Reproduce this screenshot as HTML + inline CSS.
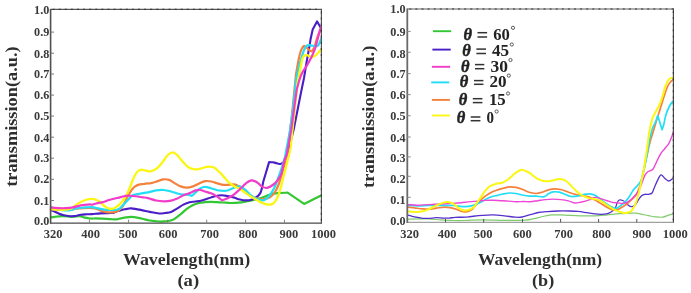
<!DOCTYPE html>
<html><head><meta charset="utf-8"><style>
html,body{margin:0;padding:0;background:#fff;}
body{width:691px;height:293px;overflow:hidden;}
svg{display:block;will-change:transform;}
text{font-family:"Liberation Serif",serif;font-weight:bold;fill:#333;}
.tk{font-size:12.5px;fill:#3a3a3a;}
.tky{font-size:12.2px;}
.lab{font-size:16.5px;fill:#2e2e2e;}
.lg{font-size:16.4px;fill:#222;}
.th{font-style:italic;stroke:#222;stroke-width:0.45px;}
.deg{font-size:9px;font-weight:normal;}
path{fill:none;stroke-linejoin:round;stroke-linecap:round;}
</style></head><body>
<svg width="691" height="293" viewBox="0 0 691 293">
<rect width="691" height="293" fill="#fff"/>
<defs><clipPath id="ca"><rect x="49.8" y="8" width="271.9" height="216"/></clipPath><clipPath id="cb"><rect x="406.5" y="8" width="267.1" height="215"/></clipPath></defs>
<g id="a">
<g clip-path="url(#ca)">
<path d="M50.50 217.60 C51.18 217.47 52.63 217.03 54.60 216.80 C56.57 216.57 59.48 216.20 62.30 216.20 C65.12 216.20 68.68 216.80 71.50 216.80 C74.32 216.80 77.15 216.12 79.20 216.20 C81.25 216.28 82.02 216.92 83.80 217.30 C85.58 217.68 87.87 218.32 89.90 218.50 C91.93 218.68 93.95 218.37 96.00 218.40 C98.05 218.43 99.87 218.58 102.20 218.70 C104.53 218.82 107.68 218.98 110.00 219.10 C112.32 219.22 114.05 219.57 116.10 219.40 C118.15 219.23 119.73 218.53 122.30 218.10 C124.87 217.67 128.43 216.75 131.50 216.80 C134.57 216.85 137.63 217.78 140.70 218.40 C143.77 219.02 146.83 219.98 149.90 220.50 C152.97 221.02 156.58 221.37 159.10 221.50 C161.62 221.63 163.25 221.42 165.00 221.30 C166.75 221.18 168.07 221.17 169.60 220.80 C171.13 220.43 172.42 220.15 174.20 219.10 C175.98 218.05 178.25 216.15 180.30 214.50 C182.35 212.85 184.45 210.73 186.50 209.20 C188.55 207.67 190.55 206.33 192.60 205.30 C194.65 204.27 196.75 203.52 198.80 203.00 C200.85 202.48 202.87 202.38 204.90 202.20 C206.93 202.02 208.95 201.90 211.00 201.90 C213.05 201.90 215.20 202.10 217.20 202.20 C219.20 202.30 220.75 202.37 223.00 202.50 C225.25 202.63 228.13 202.97 230.70 203.00 C233.27 203.03 235.85 202.95 238.40 202.70 C240.95 202.45 243.45 201.97 246.00 201.50 C248.55 201.03 251.37 200.42 253.70 199.90 C256.03 199.38 257.28 199.28 260.00 198.40 C262.72 197.52 267.08 195.48 270.00 194.60 C272.92 193.72 274.57 193.42 277.50 193.10 C280.43 192.78 285.92 192.77 287.60 192.70 L304.10 203.90 L321.00 195.40" stroke="#33c833" stroke-width="2.20"/>
<path d="M50.50 209.90 C51.18 210.17 53.15 210.85 54.60 211.50 C56.05 212.15 57.67 213.17 59.20 213.80 C60.73 214.43 62.00 214.90 63.80 215.30 C65.60 215.70 68.20 216.07 70.00 216.20 C71.80 216.33 72.82 216.35 74.60 216.10 C76.38 215.85 78.67 215.00 80.70 214.70 C82.73 214.40 84.92 214.40 86.80 214.30 C88.68 214.20 89.77 214.25 92.00 214.10 C94.23 213.95 97.47 213.57 100.20 213.40 C102.93 213.23 106.22 213.18 108.40 213.10 C110.58 213.02 111.95 213.15 113.30 212.90 C114.65 212.65 115.28 212.02 116.50 211.60 C117.72 211.18 119.23 210.78 120.60 210.40 C121.97 210.02 123.47 209.57 124.70 209.30 C125.93 209.03 126.87 208.95 128.00 208.80 C129.13 208.65 129.38 208.22 131.50 208.40 C133.62 208.58 137.63 209.32 140.70 209.90 C143.77 210.48 146.83 211.30 149.90 211.90 C152.97 212.50 156.58 213.32 159.10 213.50 C161.62 213.68 163.00 213.27 165.00 213.00 C167.00 212.73 169.05 212.67 171.10 211.90 C173.15 211.13 175.25 209.62 177.30 208.40 C179.35 207.18 181.35 205.63 183.40 204.60 C185.45 203.57 187.55 202.72 189.60 202.20 C191.65 201.68 193.67 201.78 195.70 201.50 C197.73 201.22 199.75 201.00 201.80 200.50 C203.85 200.00 205.95 199.15 208.00 198.50 C210.05 197.85 211.85 197.13 214.10 196.60 C216.35 196.07 219.25 195.38 221.50 195.30 C223.75 195.22 225.55 195.72 227.60 196.10 C229.65 196.48 231.75 197.03 233.80 197.60 C235.85 198.17 237.87 199.03 239.90 199.50 C241.93 199.97 243.95 200.40 246.00 200.40 C248.05 200.40 250.40 200.08 252.20 199.50 C254.00 198.92 255.40 198.07 256.80 196.90 C258.20 195.73 259.50 195.10 260.60 192.50 C261.70 189.90 262.93 183.17 263.40 181.30 L269.10 162.10 C269.75 162.13 272.35 162.27 273.00 162.30 C273.75 162.48 276.28 163.12 277.50 163.40 C278.72 163.68 279.37 164.15 280.30 164.00 C281.23 163.85 282.32 163.22 283.10 162.50 C283.88 161.78 284.35 160.87 285.00 159.70 C285.65 158.53 286.67 156.20 287.00 155.50 L293.60 130.00 L301.50 90.00 L304.00 78.00 L306.60 62.00 L309.20 47.80 L310.60 39.00 L312.70 29.50 L317.00 21.40 L319.60 25.70 L321.20 28.10" stroke="#4a1ec6" stroke-width="2.10"/>
<path d="M50.50 209.20 C52.08 209.30 56.75 209.68 60.00 209.80 C63.25 209.92 67.33 210.10 70.00 209.90 C72.67 209.70 73.67 208.90 76.00 208.60 C78.33 208.30 81.17 208.18 84.00 208.10 C86.83 208.02 90.98 207.98 93.00 208.10 C95.02 208.22 94.90 208.42 96.10 208.80 C97.30 209.18 98.83 209.93 100.20 210.40 C101.57 210.87 102.93 211.28 104.30 211.60 C105.67 211.92 107.03 212.18 108.40 212.30 C109.77 212.42 111.28 212.42 112.50 212.30 C113.72 212.18 114.62 211.98 115.70 211.60 C116.78 211.22 117.90 210.82 119.00 210.00 C120.10 209.18 121.40 207.83 122.30 206.70 C123.20 205.57 123.48 204.93 124.40 203.20 C125.32 201.47 126.62 198.48 127.80 196.30 C128.98 194.12 130.27 191.75 131.50 190.10 C132.73 188.45 133.97 187.32 135.20 186.40 C136.43 185.48 137.47 185.00 138.90 184.60 C140.33 184.20 142.28 184.20 143.80 184.00 C145.32 183.80 146.98 183.50 148.00 183.40 C149.02 183.30 148.57 183.67 149.90 183.40 C151.23 183.13 153.82 182.47 156.00 181.80 C158.18 181.13 160.82 179.72 163.00 179.40 C165.18 179.08 167.17 179.28 169.10 179.90 C171.03 180.52 172.67 182.02 174.60 183.10 C176.53 184.18 178.65 185.63 180.70 186.40 C182.75 187.17 184.85 187.70 186.90 187.70 C188.95 187.70 190.95 187.12 193.00 186.40 C195.05 185.68 197.15 184.28 199.20 183.40 C201.25 182.52 203.27 181.42 205.30 181.10 C207.33 180.78 209.35 181.12 211.40 181.50 C213.45 181.88 215.55 182.83 217.60 183.40 C219.65 183.97 221.63 184.68 223.70 184.90 C225.77 185.12 228.07 184.75 230.00 184.70 C231.93 184.65 233.63 184.17 235.30 184.60 C236.97 185.03 238.22 186.07 240.00 187.30 C241.78 188.53 244.17 190.58 246.00 192.00 C247.83 193.42 249.33 194.75 251.00 195.80 C252.67 196.85 254.08 197.72 256.00 198.30 C257.92 198.88 260.17 199.48 262.50 199.30 C264.83 199.12 267.97 198.33 270.00 197.20 C272.03 196.07 273.30 194.53 274.70 192.50 C276.10 190.47 277.15 188.28 278.40 185.00 C279.65 181.72 281.10 176.55 282.20 172.80 C283.30 169.05 284.20 165.38 285.00 162.50 C285.80 159.62 286.67 156.67 287.00 155.50 L292.00 115.00 L296.00 74.20 C296.45 71.70 297.90 63.07 298.70 59.20 C299.50 55.33 300.08 53.03 300.80 51.00 C301.52 48.97 302.37 47.83 303.00 47.00 C303.63 46.17 303.93 45.83 304.60 46.00 C305.27 46.17 306.15 47.28 307.00 48.00 C307.85 48.72 308.92 49.77 309.70 50.30 C310.48 50.83 310.95 51.62 311.70 51.20 C312.45 50.78 313.38 49.73 314.20 47.80 C315.02 45.87 315.78 42.07 316.60 39.60 C317.42 37.13 318.33 34.50 319.10 33.00 C319.87 31.50 320.85 31.00 321.20 30.60" stroke="#f5803c" stroke-width="2.20"/>
<path d="M50.50 207.00 C51.70 207.37 55.23 208.62 57.70 209.20 C60.17 209.78 63.00 210.38 65.30 210.50 C67.60 210.62 69.70 210.27 71.50 209.90 C73.30 209.53 74.05 208.68 76.10 208.30 C78.15 207.92 81.15 207.80 83.80 207.60 C86.45 207.40 89.95 207.03 92.00 207.10 C94.05 207.17 94.73 207.72 96.10 208.00 C97.47 208.28 98.83 208.53 100.20 208.80 C101.57 209.07 102.93 209.40 104.30 209.60 C105.67 209.80 106.90 209.93 108.40 210.00 C109.90 210.07 111.95 210.03 113.30 210.00 C114.65 209.97 115.42 210.07 116.50 209.80 C117.58 209.53 118.70 209.18 119.80 208.40 C120.90 207.62 122.07 206.17 123.10 205.10 C124.13 204.03 125.00 203.07 126.00 202.00 C127.00 200.93 127.97 199.82 129.10 198.70 C130.23 197.58 131.37 196.07 132.80 195.30 C134.23 194.53 136.07 194.45 137.70 194.10 C139.33 193.75 140.88 193.50 142.60 193.20 C144.32 192.90 145.77 192.77 148.00 192.30 C150.23 191.83 153.38 190.78 156.00 190.40 C158.62 190.02 161.18 189.82 163.70 190.00 C166.22 190.18 168.83 190.92 171.10 191.50 C173.37 192.08 175.25 192.98 177.30 193.50 C179.35 194.02 181.42 194.38 183.40 194.60 C185.38 194.82 187.78 194.60 189.20 194.80 C190.62 195.00 190.82 196.22 191.90 195.80 C192.98 195.38 194.30 193.53 195.70 192.30 C197.10 191.07 198.77 189.30 200.30 188.40 C201.83 187.50 203.12 186.93 204.90 186.90 C206.68 186.87 208.95 187.65 211.00 188.20 C213.05 188.75 215.53 189.78 217.20 190.20 C218.87 190.62 219.27 190.65 221.00 190.70 C222.73 190.75 225.22 191.08 227.60 190.50 C229.98 189.92 233.25 187.90 235.30 187.20 C237.35 186.50 238.37 185.97 239.90 186.30 C241.43 186.63 242.72 187.75 244.50 189.20 C246.28 190.65 248.55 193.38 250.60 195.00 C252.65 196.62 255.13 198.07 256.80 198.90 C258.47 199.73 259.33 199.82 260.60 200.00 C261.87 200.18 262.98 200.62 264.40 200.00 C265.82 199.38 267.53 198.17 269.10 196.30 C270.67 194.43 272.25 191.93 273.80 188.80 C275.35 185.67 277.00 181.25 278.40 177.50 C279.80 173.75 281.10 169.73 282.20 166.30 C283.30 162.87 284.53 158.47 285.00 156.90 L290.10 130.00 L292.80 110.00 L296.00 80.00 C296.45 77.90 297.78 71.10 298.70 67.40 C299.62 63.70 300.58 60.77 301.50 57.80 C302.42 54.83 303.28 51.65 304.20 49.60 C305.12 47.55 305.85 46.22 307.00 45.50 C308.15 44.78 309.73 45.18 311.10 45.30 C312.47 45.42 314.00 46.18 315.20 46.20 C316.40 46.22 317.30 46.63 318.30 45.40 C319.30 44.17 320.72 39.90 321.20 38.80" stroke="#22def5" stroke-width="2.20"/>
<path d="M50.50 209.00 C51.70 209.12 55.23 209.58 57.70 209.70 C60.17 209.82 63.00 209.92 65.30 209.70 C67.60 209.48 69.45 209.38 71.50 208.40 C73.55 207.42 75.30 205.20 77.60 203.80 C79.90 202.40 82.73 200.82 85.30 200.00 C87.87 199.18 91.20 198.93 93.00 198.90 C94.80 198.87 94.90 199.25 96.10 199.80 C97.30 200.35 98.83 201.18 100.20 202.20 C101.57 203.22 102.93 204.87 104.30 205.90 C105.67 206.93 107.18 207.92 108.40 208.40 C109.62 208.88 110.52 208.87 111.60 208.80 C112.68 208.73 113.80 208.55 114.90 208.00 C116.00 207.45 117.27 206.23 118.20 205.50 C119.13 204.77 119.52 204.73 120.50 203.60 C121.48 202.47 122.98 200.33 124.10 198.70 C125.22 197.07 126.17 195.85 127.20 193.80 C128.23 191.75 129.27 188.95 130.30 186.40 C131.33 183.85 132.38 180.75 133.40 178.50 C134.42 176.25 135.38 174.28 136.40 172.90 C137.42 171.52 138.47 170.72 139.50 170.20 C140.53 169.68 141.18 169.65 142.60 169.80 C144.02 169.95 146.65 170.85 148.00 171.10 C149.35 171.35 149.23 171.75 150.70 171.30 C152.17 170.85 154.75 170.03 156.80 168.40 C158.85 166.77 161.20 163.68 163.00 161.50 C164.80 159.32 166.07 156.82 167.60 155.30 C169.13 153.78 170.67 152.52 172.20 152.40 C173.73 152.28 175.50 153.60 176.80 154.60 C178.10 155.60 179.08 157.32 180.00 158.40 C180.92 159.48 180.90 159.63 182.30 161.10 C183.70 162.57 186.35 165.82 188.40 167.20 C190.45 168.58 192.55 169.17 194.60 169.40 C196.65 169.63 198.67 169.03 200.70 168.60 C202.73 168.17 204.75 167.03 206.80 166.80 C208.85 166.57 211.20 166.62 213.00 167.20 C214.80 167.78 216.07 169.02 217.60 170.30 C219.13 171.58 220.67 173.23 222.20 174.90 C223.73 176.57 225.50 178.88 226.80 180.30 C228.10 181.72 228.58 182.30 230.00 183.40 C231.42 184.50 233.63 185.97 235.30 186.90 C236.97 187.83 237.97 187.75 240.00 189.00 C242.03 190.25 245.00 192.72 247.50 194.40 C250.00 196.08 252.65 197.73 255.00 199.10 C257.35 200.47 259.57 201.70 261.60 202.60 C263.63 203.50 265.48 204.25 267.20 204.50 C268.92 204.75 270.50 204.70 271.90 204.10 C273.30 203.50 274.35 202.83 275.60 200.90 C276.85 198.97 278.27 195.77 279.40 192.50 C280.53 189.23 281.42 185.05 282.40 181.30 C283.38 177.55 284.45 173.37 285.30 170.00 C286.15 166.63 286.87 163.67 287.50 161.10 C288.13 158.53 288.58 156.78 289.10 154.60 C289.62 152.42 290.35 149.10 290.60 148.00 L292.50 130.00 L294.60 110.00 L296.90 90.00 L298.00 80.00 C298.35 78.35 299.40 73.57 300.10 70.10 C300.80 66.63 301.52 61.58 302.20 59.20 C302.88 56.82 303.40 56.48 304.20 55.80 C305.00 55.12 306.08 55.00 307.00 55.10 C307.92 55.20 308.80 56.07 309.70 56.40 C310.60 56.73 311.35 57.32 312.40 57.10 C313.45 56.88 315.02 55.83 316.00 55.10 C316.98 54.37 317.43 53.63 318.30 52.70 C319.17 51.77 320.72 50.03 321.20 49.50" stroke="#fbf614" stroke-width="2.30"/>
<path d="M50.50 207.60 C51.70 207.68 55.23 208.00 57.70 208.10 C60.17 208.20 62.75 208.32 65.30 208.20 C67.85 208.08 70.43 207.88 73.00 207.40 C75.57 206.92 77.88 205.80 80.70 205.30 C83.52 204.80 88.02 204.50 89.90 204.40 C91.78 204.30 90.97 204.85 92.00 204.70 C93.03 204.55 94.73 203.85 96.10 203.50 C97.47 203.15 98.83 202.88 100.20 202.60 C101.57 202.32 103.22 202.10 104.30 201.80 C105.38 201.50 105.75 201.13 106.70 200.80 C107.65 200.47 108.63 200.18 110.00 199.80 C111.37 199.42 113.40 198.87 114.90 198.50 C116.40 198.13 117.67 197.93 119.00 197.60 C120.33 197.27 121.43 196.82 122.90 196.50 C124.37 196.18 126.15 195.78 127.80 195.70 C129.45 195.62 131.15 195.87 132.80 196.00 C134.45 196.13 136.07 196.28 137.70 196.50 C139.33 196.72 140.88 197.03 142.60 197.30 C144.32 197.57 145.77 197.57 148.00 198.10 C150.23 198.63 153.38 199.97 156.00 200.50 C158.62 201.03 161.18 201.27 163.70 201.30 C166.22 201.33 168.83 201.18 171.10 200.70 C173.37 200.22 175.25 199.30 177.30 198.40 C179.35 197.50 181.35 196.20 183.40 195.30 C185.45 194.40 187.55 193.82 189.60 193.00 C191.65 192.18 193.92 190.90 195.70 190.40 C197.48 189.90 198.77 189.82 200.30 190.00 C201.83 190.18 203.12 190.95 204.90 191.50 C206.68 192.05 209.22 192.62 211.00 193.30 C212.78 193.98 213.73 194.43 215.60 195.60 C217.47 196.77 221.10 199.52 222.20 200.30 C223.10 199.97 225.67 199.25 227.60 198.30 C229.53 197.35 231.75 196.12 233.80 194.60 C235.85 193.08 237.87 191.08 239.90 189.20 C241.93 187.32 244.10 184.78 246.00 183.30 C247.90 181.82 249.48 180.48 251.30 180.30 C253.12 180.12 255.03 181.10 256.90 182.20 C258.77 183.30 260.78 185.97 262.50 186.90 C264.22 187.83 265.48 188.12 267.20 187.80 C268.92 187.48 271.08 186.25 272.80 185.00 C274.52 183.75 276.08 182.17 277.50 180.30 C278.92 178.43 280.18 177.00 281.30 173.80 C282.42 170.60 283.30 164.30 284.20 161.10 C285.10 157.90 286.08 156.78 286.70 154.60 C287.32 152.42 287.70 149.10 287.90 148.00 L291.20 130.00 L293.90 110.00 L296.60 90.00 C297.07 88.33 298.58 82.63 299.40 80.00 C300.22 77.37 300.70 75.95 301.50 74.20 C302.30 72.45 303.28 70.98 304.20 69.50 C305.12 68.02 306.08 66.80 307.00 65.30 C307.92 63.80 308.80 62.20 309.70 60.50 C310.60 58.80 311.48 57.15 312.40 55.10 C313.32 53.05 314.37 50.72 315.20 48.20 C316.03 45.68 316.67 42.80 317.40 40.00 C318.13 37.20 318.93 33.73 319.60 31.40 C320.27 29.07 321.10 26.90 321.40 26.00" stroke="#f03cc8" stroke-width="2.20"/>
</g>
<line x1="50.60" y1="9.40" x2="321.90" y2="9.40" stroke="#5a5a5a" stroke-width="1.10"/>
<line x1="52.60" y1="9.40" x2="321.40" y2="9.40" stroke="#333" stroke-width="1.10" stroke-dasharray="2 4.1"/>
<line x1="321.40" y1="8.90" x2="321.40" y2="223.80" stroke="#555" stroke-width="1.20"/>
<line x1="321.40" y1="11.40" x2="321.40" y2="223.20" stroke="#333" stroke-width="1.20" stroke-dasharray="2 4.1"/>
<line x1="50.60" y1="223.20" x2="321.40" y2="223.20" stroke="#4a4a4a" stroke-width="1.30"/>
<line x1="50.60" y1="8.90" x2="50.60" y2="223.80" stroke="#505050" stroke-width="1.60"/>
<line x1="50.60" y1="200.50" x2="54.00" y2="200.50" stroke="#777" stroke-width="1"/>
<line x1="50.60" y1="179.30" x2="54.00" y2="179.30" stroke="#777" stroke-width="1"/>
<line x1="50.60" y1="158.20" x2="54.00" y2="158.20" stroke="#777" stroke-width="1"/>
<line x1="50.60" y1="137.20" x2="54.00" y2="137.20" stroke="#777" stroke-width="1"/>
<line x1="50.60" y1="116.10" x2="54.00" y2="116.10" stroke="#777" stroke-width="1"/>
<line x1="50.60" y1="95.10" x2="54.00" y2="95.10" stroke="#777" stroke-width="1"/>
<line x1="50.60" y1="74.00" x2="54.00" y2="74.00" stroke="#777" stroke-width="1"/>
<line x1="50.60" y1="53.20" x2="54.00" y2="53.20" stroke="#777" stroke-width="1"/>
<line x1="50.60" y1="32.10" x2="54.00" y2="32.10" stroke="#777" stroke-width="1"/>
<line x1="89.40" y1="223.20" x2="89.40" y2="219.70" stroke="#808080" stroke-width="1"/>
<line x1="128.60" y1="223.20" x2="128.60" y2="219.70" stroke="#808080" stroke-width="1"/>
<line x1="167.60" y1="223.20" x2="167.60" y2="219.70" stroke="#808080" stroke-width="1"/>
<line x1="206.70" y1="223.20" x2="206.70" y2="219.70" stroke="#808080" stroke-width="1"/>
<line x1="245.60" y1="223.20" x2="245.60" y2="219.70" stroke="#808080" stroke-width="1"/>
<line x1="284.50" y1="223.20" x2="284.50" y2="219.70" stroke="#808080" stroke-width="1"/>
<text x="49.30" y="13.60" text-anchor="end" class="tk tky">1.0</text>
<text x="49.30" y="36.20" text-anchor="end" class="tk tky">0.9</text>
<text x="49.30" y="57.50" text-anchor="end" class="tk tky">0.8</text>
<text x="49.30" y="78.20" text-anchor="end" class="tk tky">0.7</text>
<text x="49.30" y="99.40" text-anchor="end" class="tk tky">0.6</text>
<text x="49.30" y="120.40" text-anchor="end" class="tk tky">0.5</text>
<text x="49.30" y="141.50" text-anchor="end" class="tk tky">0.4</text>
<text x="49.30" y="162.40" text-anchor="end" class="tk tky">0.3</text>
<text x="49.30" y="183.40" text-anchor="end" class="tk tky">0.2</text>
<text x="49.30" y="204.50" text-anchor="end" class="tk tky">0.1</text>
<text x="49.30" y="225.30" text-anchor="end" class="tk tky">0.0</text>
<text x="53.00" y="238.30" text-anchor="middle" class="tk">320</text>
<text x="90.70" y="238.30" text-anchor="middle" class="tk">400</text>
<text x="128.00" y="238.30" text-anchor="middle" class="tk">500</text>
<text x="168.20" y="238.30" text-anchor="middle" class="tk">600</text>
<text x="209.70" y="238.30" text-anchor="middle" class="tk">700</text>
<text x="248.20" y="238.30" text-anchor="middle" class="tk">800</text>
<text x="288.90" y="238.30" text-anchor="middle" class="tk">900</text>
<text x="323.50" y="238.30" text-anchor="middle" class="tk">1000</text>
<text class="lab" transform="translate(17.4,186.8) rotate(-90)" textLength="140.4" lengthAdjust="spacingAndGlyphs">transmission(a.u.)</text>
<text class="lab" x="123.0" y="265.2" textLength="127.2" lengthAdjust="spacingAndGlyphs">Wavelength(nm)</text>
<text class="lab" x="177.4" y="286.2" textLength="21.8" lengthAdjust="spacingAndGlyphs">(a)</text>
</g>
<g id="b">
<g clip-path="url(#cb)">
<path d="M408.00 219.30 C409.50 219.23 413.52 218.95 417.00 218.90 C420.48 218.85 424.92 218.83 428.90 219.00 C432.88 219.17 436.92 219.65 440.90 219.90 C444.88 220.15 448.78 220.40 452.80 220.50 C456.82 220.60 460.10 220.62 465.00 220.50 C469.90 220.38 475.65 219.83 482.20 219.80 C488.75 219.77 497.17 220.25 504.30 220.30 C511.43 220.35 520.07 220.37 525.00 220.10 C529.93 219.83 530.95 219.30 533.90 218.70 C536.85 218.10 539.75 217.13 542.70 216.50 C545.65 215.87 548.65 215.17 551.60 214.90 C554.55 214.63 557.45 214.82 560.40 214.90 C563.35 214.98 565.97 215.25 569.30 215.40 C572.63 215.55 576.12 215.72 580.40 215.80 C584.68 215.88 590.52 216.05 595.00 215.90 C599.48 215.75 603.20 215.27 607.30 214.90 C611.40 214.53 615.52 214.00 619.60 213.70 C623.68 213.40 629.07 213.20 631.80 213.10 C634.53 213.00 634.47 212.93 636.00 213.10 C637.53 213.27 638.88 213.67 641.00 214.10 C643.12 214.53 646.37 215.25 648.70 215.70 C651.03 216.15 652.68 216.55 655.00 216.80 C657.32 217.05 660.32 217.48 662.60 217.20 C664.88 216.92 666.88 215.68 668.70 215.10 C670.52 214.52 672.70 213.93 673.50 213.70" stroke="#80cc6c" stroke-width="1.20"/>
<path d="M408.00 215.10 C409.10 215.40 412.12 216.37 414.60 216.90 C417.08 217.43 420.52 218.05 422.90 218.30 C425.28 218.55 426.70 218.50 428.90 218.40 C431.10 218.30 433.72 217.75 436.10 217.70 C438.48 217.65 441.02 218.03 443.20 218.10 C445.38 218.17 447.20 218.23 449.20 218.10 C451.20 217.97 452.57 217.45 455.20 217.30 C457.83 217.15 462.35 217.33 465.00 217.20 C467.65 217.07 468.23 216.80 471.10 216.50 C473.97 216.20 478.52 215.67 482.20 215.40 C485.88 215.13 489.52 214.83 493.20 214.90 C496.88 214.97 500.60 215.42 504.30 215.80 C508.00 216.18 512.45 217.00 515.40 217.20 C518.35 217.40 519.30 217.48 522.00 217.00 C524.70 216.52 528.88 215.05 531.60 214.30 C534.32 213.55 535.70 212.95 538.30 212.50 C540.90 212.05 543.88 211.85 547.20 211.60 C550.52 211.35 554.52 211.10 558.20 211.00 C561.88 210.90 565.97 210.93 569.30 211.00 C572.63 211.07 575.25 211.12 578.20 211.40 C581.15 211.68 584.20 212.28 587.00 212.70 C589.80 213.12 592.72 213.63 595.00 213.90 C597.28 214.17 598.78 214.30 600.70 214.30 C602.62 214.30 604.75 214.28 606.50 213.90 C608.25 213.52 609.78 212.88 611.20 212.00 C612.62 211.12 613.97 210.20 615.00 208.60 C616.03 207.00 616.68 203.83 617.40 202.40 C618.12 200.97 618.42 200.32 619.30 200.00 C620.18 199.68 621.67 200.10 622.70 200.50 C623.73 200.90 624.55 201.60 625.50 202.40 C626.45 203.20 627.43 204.58 628.40 205.30 C629.37 206.02 630.20 206.70 631.30 206.70 C632.40 206.70 633.73 206.57 635.00 205.30 C636.27 204.03 637.80 200.70 638.90 199.10 C640.00 197.50 640.58 196.50 641.60 195.70 C642.62 194.90 643.85 194.53 645.00 194.30 C646.15 194.07 647.33 194.52 648.50 194.30 C649.67 194.08 651.02 194.13 652.00 193.00 C652.98 191.87 653.48 189.60 654.40 187.50 C655.32 185.40 656.40 182.52 657.50 180.40 C658.60 178.28 659.80 175.15 661.00 174.80 C662.20 174.45 663.42 177.27 664.70 178.30 C665.98 179.33 667.52 180.83 668.70 181.00 C669.88 181.17 671.00 179.85 671.80 179.30 C672.60 178.75 673.22 177.97 673.50 177.70" stroke="#5530cc" stroke-width="1.30"/>
<path d="M408.00 207.10 C409.10 207.23 412.12 207.60 414.60 207.90 C417.08 208.20 420.52 208.70 422.90 208.90 C425.28 209.10 426.70 209.22 428.90 209.10 C431.10 208.98 433.52 208.53 436.10 208.20 C438.68 207.87 442.02 207.18 444.40 207.10 C446.78 207.02 448.40 207.33 450.40 207.70 C452.40 208.07 454.63 208.72 456.40 209.30 C458.17 209.88 459.57 210.78 461.00 211.20 C462.43 211.62 463.67 211.82 465.00 211.80 C466.33 211.78 467.75 211.57 469.00 211.10 C470.25 210.63 471.42 209.95 472.50 209.00 C473.58 208.05 474.38 206.67 475.50 205.40 C476.62 204.13 477.57 202.95 479.20 201.40 C480.83 199.85 483.25 197.63 485.30 196.10 C487.35 194.57 489.45 193.23 491.50 192.20 C493.55 191.17 495.55 190.58 497.60 189.90 C499.65 189.22 501.75 188.60 503.80 188.10 C505.85 187.60 507.87 187.03 509.90 186.90 C511.93 186.77 513.95 186.92 516.00 187.30 C518.05 187.68 520.40 188.50 522.20 189.20 C524.00 189.90 525.50 190.95 526.80 191.50 C528.10 192.05 528.45 192.17 530.00 192.50 C531.55 192.83 534.05 193.55 536.10 193.50 C538.15 193.45 540.25 192.80 542.30 192.20 C544.35 191.60 546.35 190.47 548.40 189.90 C550.45 189.33 552.55 188.87 554.60 188.80 C556.65 188.73 558.67 189.05 560.70 189.50 C562.73 189.95 564.75 190.78 566.80 191.50 C568.85 192.22 570.95 193.17 573.00 193.80 C575.05 194.43 577.07 194.92 579.10 195.30 C581.13 195.68 583.38 195.78 585.20 196.10 C587.02 196.42 588.37 196.55 590.00 197.20 C591.63 197.85 593.37 199.05 595.00 200.00 C596.63 200.95 598.22 201.93 599.80 202.90 C601.38 203.87 602.92 204.85 604.50 205.80 C606.08 206.75 607.87 207.90 609.30 208.60 C610.73 209.30 611.98 209.77 613.10 210.00 C614.22 210.23 615.03 210.15 616.00 210.00 C616.97 209.85 617.78 209.65 618.90 209.10 C620.02 208.55 621.43 207.50 622.70 206.70 C623.97 205.90 625.23 205.25 626.50 204.30 C627.77 203.35 628.88 202.35 630.30 201.00 C631.72 199.65 633.80 197.65 635.00 196.20 C636.20 194.75 636.73 193.87 637.50 192.30 C638.27 190.73 638.92 188.85 639.60 186.80 C640.28 184.75 640.92 182.72 641.60 180.00 C642.28 177.28 643.05 173.50 643.70 170.50 C644.35 167.50 644.87 164.92 645.50 162.00 C646.13 159.08 646.78 156.17 647.50 153.00 C648.22 149.83 648.90 146.38 649.80 143.00 C650.70 139.62 652.38 134.42 652.90 132.70 L657.00 119.10 L661.10 106.10 C661.70 104.17 663.58 97.85 664.70 94.50 C665.82 91.15 666.77 88.17 667.80 86.00 C668.83 83.83 669.98 82.53 670.90 81.50 C671.82 80.47 672.90 80.08 673.30 79.80" stroke="#f5803c" stroke-width="1.70"/>
<path d="M408.00 205.30 C409.50 205.40 413.52 205.87 417.00 205.90 C420.48 205.93 424.92 205.60 428.90 205.50 C432.88 205.40 436.92 205.30 440.90 205.30 C444.88 205.30 448.78 205.27 452.80 205.50 C456.82 205.73 461.58 206.72 465.00 206.70 C468.42 206.68 470.93 206.02 473.30 205.40 C475.67 204.78 477.20 203.97 479.20 203.00 C481.20 202.03 483.25 200.63 485.30 199.60 C487.35 198.57 489.45 197.52 491.50 196.80 C493.55 196.08 495.55 195.80 497.60 195.30 C499.65 194.80 501.75 194.18 503.80 193.80 C505.85 193.42 507.87 193.05 509.90 193.00 C511.93 192.95 513.95 193.17 516.00 193.50 C518.05 193.83 519.87 194.57 522.20 195.00 C524.53 195.43 527.68 195.92 530.00 196.10 C532.32 196.28 533.80 195.98 536.10 196.10 C538.40 196.22 541.75 197.18 543.80 196.80 C545.85 196.42 546.87 194.62 548.40 193.80 C549.93 192.98 551.20 192.17 553.00 191.90 C554.80 191.63 557.15 191.77 559.20 192.20 C561.25 192.63 563.27 193.78 565.30 194.50 C567.33 195.22 569.35 196.23 571.40 196.50 C573.45 196.77 575.55 196.43 577.60 196.10 C579.65 195.77 581.63 194.88 583.70 194.50 C585.77 194.12 588.12 193.67 590.00 193.80 C591.88 193.93 593.37 194.50 595.00 195.30 C596.63 196.10 598.22 197.42 599.80 198.60 C601.38 199.78 602.92 201.20 604.50 202.40 C606.08 203.60 607.70 204.87 609.30 205.80 C610.90 206.73 612.82 207.62 614.10 208.00 C615.38 208.38 616.05 208.40 617.00 208.10 C617.95 207.80 618.70 206.98 619.80 206.20 C620.90 205.42 622.23 204.68 623.60 203.40 C624.97 202.12 626.35 200.77 628.00 198.50 C629.65 196.23 631.92 191.97 633.50 189.80 C635.08 187.63 636.25 187.02 637.50 185.50 C638.75 183.98 640.08 182.75 641.00 180.70 C641.92 178.65 642.33 175.82 643.00 173.20 C643.67 170.58 644.25 168.53 645.00 165.00 C645.75 161.47 646.75 156.17 647.50 152.00 C648.25 147.83 648.93 142.98 649.50 140.00 C650.07 137.02 650.33 136.22 650.90 134.10 C651.47 131.98 652.12 129.35 652.90 127.30 C653.68 125.25 654.80 123.77 655.60 121.80 C656.40 119.83 657.35 116.55 657.70 115.50 L662.10 129.80 L663.80 124.60 C664.17 122.92 665.00 117.68 666.00 114.50 C667.00 111.32 668.58 107.78 669.80 105.50 C671.02 103.22 672.72 101.58 673.30 100.80" stroke="#22def5" stroke-width="1.70"/>
<path d="M408.00 204.60 C409.50 204.70 413.52 205.20 417.00 205.20 C420.48 205.20 424.92 204.80 428.90 204.60 C432.88 204.40 436.92 204.20 440.90 204.00 C444.88 203.80 448.78 203.68 452.80 203.40 C456.82 203.12 462.13 202.60 465.00 202.30 C467.87 202.00 467.88 201.80 470.00 201.60 C472.12 201.40 475.15 201.30 477.70 201.10 C480.25 200.90 482.75 200.53 485.30 200.40 C487.85 200.27 490.43 200.25 493.00 200.30 C495.57 200.35 498.13 200.57 500.70 200.70 C503.27 200.83 505.85 200.93 508.40 201.10 C510.95 201.27 513.45 201.63 516.00 201.70 C518.55 201.77 521.37 201.50 523.70 201.50 C526.03 201.50 527.67 201.83 530.00 201.70 C532.33 201.57 535.15 201.05 537.70 200.70 C540.25 200.35 542.75 199.87 545.30 199.60 C547.85 199.33 550.43 199.10 553.00 199.10 C555.57 199.10 558.13 199.30 560.70 199.60 C563.27 199.90 566.10 200.33 568.40 200.90 C570.70 201.47 572.47 202.78 574.50 203.00 C576.53 203.22 578.02 202.77 580.60 202.20 C583.18 201.63 587.60 200.40 590.00 199.60 C592.40 198.80 593.22 197.57 595.00 197.40 C596.78 197.23 598.78 198.08 600.70 198.60 C602.62 199.12 604.58 199.87 606.50 200.50 C608.42 201.13 610.30 202.00 612.20 202.40 C614.10 202.80 616.32 202.73 617.90 202.90 C619.48 203.07 620.43 203.40 621.70 203.40 C622.97 203.40 624.45 203.17 625.50 202.90 C626.55 202.63 626.90 202.55 628.00 201.80 C629.10 201.05 630.73 199.65 632.10 198.40 C633.47 197.15 634.95 195.88 636.20 194.30 C637.45 192.72 638.58 190.93 639.60 188.90 C640.62 186.87 641.40 184.38 642.30 182.10 C643.20 179.82 644.08 176.92 645.00 175.20 C645.92 173.48 646.88 172.55 647.80 171.80 C648.72 171.05 649.57 171.25 650.50 170.70 C651.43 170.15 652.40 169.95 653.40 168.50 C654.40 167.05 655.30 164.45 656.50 162.00 C657.70 159.55 659.23 156.02 660.60 153.80 C661.97 151.58 663.33 150.40 664.70 148.70 C666.07 147.00 667.60 145.65 668.80 143.60 C670.00 141.55 671.12 138.45 671.90 136.40 C672.68 134.35 673.23 132.15 673.50 131.30" stroke="#ee46d6" stroke-width="1.40"/>
<path d="M408.00 211.50 C409.10 211.57 412.32 211.88 414.60 211.90 C416.88 211.92 419.52 211.97 421.70 211.60 C423.88 211.23 425.50 210.62 427.70 209.70 C429.90 208.78 432.52 207.20 434.90 206.10 C437.28 205.00 439.82 203.78 442.00 203.10 C444.18 202.42 446.20 201.93 448.00 202.00 C449.80 202.07 451.20 202.62 452.80 203.50 C454.40 204.38 456.15 206.25 457.60 207.30 C459.05 208.35 460.10 209.25 461.50 209.80 C462.90 210.35 464.58 210.65 466.00 210.60 C467.42 210.55 468.78 210.00 470.00 209.50 C471.22 209.00 472.28 208.52 473.30 207.60 C474.32 206.68 474.87 205.67 476.10 204.00 C477.33 202.33 479.17 199.82 480.70 197.60 C482.23 195.38 483.75 192.62 485.30 190.70 C486.85 188.78 488.20 187.25 490.00 186.10 C491.80 184.95 494.07 184.37 496.10 183.80 C498.13 183.23 500.15 183.47 502.20 182.70 C504.25 181.93 506.35 180.68 508.40 179.20 C510.45 177.72 512.47 175.33 514.50 173.80 C516.53 172.27 518.82 170.52 520.60 170.00 C522.38 169.48 523.63 170.17 525.20 170.70 C526.77 171.23 528.43 172.17 530.00 173.20 C531.57 174.23 533.07 175.83 534.60 176.90 C536.13 177.97 537.42 178.88 539.20 179.60 C540.98 180.32 543.25 181.02 545.30 181.20 C547.35 181.38 549.45 181.03 551.50 180.70 C553.55 180.37 555.82 179.45 557.60 179.20 C559.38 178.95 560.67 178.82 562.20 179.20 C563.73 179.58 565.27 180.35 566.80 181.50 C568.33 182.65 569.87 184.57 571.40 186.10 C572.93 187.63 574.47 189.30 576.00 190.70 C577.53 192.10 579.07 193.48 580.60 194.50 C582.13 195.52 583.63 196.15 585.20 196.80 C586.77 197.45 588.37 198.02 590.00 198.40 C591.63 198.78 593.37 198.75 595.00 199.10 C596.63 199.45 598.22 199.78 599.80 200.50 C601.38 201.22 602.92 202.37 604.50 203.40 C606.08 204.43 607.70 205.67 609.30 206.70 C610.90 207.73 612.50 208.80 614.10 209.60 C615.70 210.40 617.32 210.95 618.90 211.50 C620.48 212.05 622.17 212.70 623.60 212.90 C625.03 213.10 626.22 213.02 627.50 212.70 C628.78 212.38 630.08 212.20 631.30 211.00 C632.52 209.80 633.77 207.72 634.80 205.50 C635.83 203.28 636.70 200.35 637.50 197.70 C638.30 195.05 638.92 192.55 639.60 189.60 C640.28 186.65 640.92 183.18 641.60 180.00 C642.28 176.82 643.08 173.83 643.70 170.50 C644.32 167.17 644.70 163.97 645.30 160.00 C645.90 156.03 646.78 150.37 647.30 146.70 C647.82 143.03 647.92 141.23 648.40 138.00 C648.88 134.77 649.57 130.45 650.20 127.30 C650.83 124.15 651.40 121.48 652.20 119.10 C653.00 116.72 654.08 114.82 655.00 113.00 C655.92 111.18 656.80 109.92 657.70 108.20 C658.60 106.48 659.57 104.80 660.40 102.70 C661.23 100.60 661.82 98.48 662.70 95.60 C663.58 92.72 664.68 88.10 665.70 85.40 C666.72 82.70 667.77 80.67 668.80 79.40 C669.83 78.13 671.15 78.00 671.90 77.80 C672.65 77.60 673.07 78.13 673.30 78.20" stroke="#fbf614" stroke-width="2.00"/>
</g>
<line x1="407.30" y1="9.00" x2="673.90" y2="9.00" stroke="#5e5e5e" stroke-width="1.10"/>
<line x1="409.30" y1="9.00" x2="673.40" y2="9.00" stroke="#333" stroke-width="1.10" stroke-dasharray="2 4.1"/>
<line x1="673.40" y1="8.50" x2="673.40" y2="223.00" stroke="#4a4a4a" stroke-width="1.20"/>
<line x1="673.40" y1="11.00" x2="673.40" y2="222.40" stroke="#333" stroke-width="1.20" stroke-dasharray="2 4.1"/>
<line x1="407.30" y1="222.40" x2="673.40" y2="222.40" stroke="#a0a0a0" stroke-width="1.40"/>
<line x1="407.30" y1="8.50" x2="407.30" y2="223.00" stroke="#6a6a6a" stroke-width="1.80"/>
<line x1="407.30" y1="197.30" x2="410.70" y2="197.30" stroke="#8a8a8a" stroke-width="1"/>
<line x1="407.30" y1="176.30" x2="410.70" y2="176.30" stroke="#8a8a8a" stroke-width="1"/>
<line x1="407.30" y1="156.90" x2="410.70" y2="156.90" stroke="#8a8a8a" stroke-width="1"/>
<line x1="407.30" y1="137.00" x2="410.70" y2="137.00" stroke="#8a8a8a" stroke-width="1"/>
<line x1="407.30" y1="115.70" x2="410.70" y2="115.70" stroke="#8a8a8a" stroke-width="1"/>
<line x1="407.30" y1="94.60" x2="410.70" y2="94.60" stroke="#8a8a8a" stroke-width="1"/>
<line x1="407.30" y1="73.60" x2="410.70" y2="73.60" stroke="#8a8a8a" stroke-width="1"/>
<line x1="407.30" y1="52.30" x2="410.70" y2="52.30" stroke="#8a8a8a" stroke-width="1"/>
<line x1="407.30" y1="31.40" x2="410.70" y2="31.40" stroke="#8a8a8a" stroke-width="1"/>
<line x1="445.50" y1="222.40" x2="445.50" y2="218.90" stroke="#555" stroke-width="1"/>
<line x1="483.70" y1="222.40" x2="483.70" y2="218.90" stroke="#555" stroke-width="1"/>
<line x1="522.50" y1="222.40" x2="522.50" y2="218.90" stroke="#555" stroke-width="1"/>
<line x1="560.60" y1="222.40" x2="560.60" y2="218.90" stroke="#555" stroke-width="1"/>
<line x1="598.60" y1="222.40" x2="598.60" y2="218.90" stroke="#555" stroke-width="1"/>
<line x1="636.80" y1="222.40" x2="636.80" y2="218.90" stroke="#555" stroke-width="1"/>
<text x="405.60" y="13.10" text-anchor="end" class="tk tky">1.0</text>
<text x="405.60" y="36.40" text-anchor="end" class="tk tky">0.9</text>
<text x="405.60" y="57.90" text-anchor="end" class="tk tky">0.8</text>
<text x="405.60" y="78.40" text-anchor="end" class="tk tky">0.7</text>
<text x="405.60" y="98.90" text-anchor="end" class="tk tky">0.6</text>
<text x="405.60" y="120.00" text-anchor="end" class="tk tky">0.5</text>
<text x="405.60" y="141.50" text-anchor="end" class="tk tky">0.4</text>
<text x="405.60" y="162.20" text-anchor="end" class="tk tky">0.3</text>
<text x="405.60" y="183.10" text-anchor="end" class="tk tky">0.2</text>
<text x="405.60" y="204.00" text-anchor="end" class="tk tky">0.1</text>
<text x="405.60" y="224.60" text-anchor="end" class="tk tky">0.0</text>
<text x="409.50" y="237.80" text-anchor="middle" class="tk">320</text>
<text x="447.00" y="237.80" text-anchor="middle" class="tk">400</text>
<text x="483.20" y="237.80" text-anchor="middle" class="tk">500</text>
<text x="522.40" y="237.80" text-anchor="middle" class="tk">600</text>
<text x="563.60" y="237.80" text-anchor="middle" class="tk">700</text>
<text x="601.70" y="237.80" text-anchor="middle" class="tk">800</text>
<text x="641.80" y="237.80" text-anchor="middle" class="tk">900</text>
<text x="675.20" y="237.80" text-anchor="middle" class="tk">1000</text>
<text class="lab" transform="translate(374.1,188) rotate(-90)" textLength="142.4" lengthAdjust="spacingAndGlyphs">transmission(a.u.)</text>
<text class="lab" x="478.0" y="264.8" textLength="124.2" lengthAdjust="spacingAndGlyphs">Wavelength(nm)</text>
<text class="lab" x="532.0" y="285.6" textLength="22.2" lengthAdjust="spacingAndGlyphs">(b)</text>
<line x1="433.00" y1="31.20" x2="451.20" y2="31.20" stroke="#33c833" stroke-width="1.9"/>
<text x="463.40" y="39.90" class="lg th">&#952;</text>
<rect x="477.50" y="31.95" width="9.60" height="1.5" fill="#333"/>
<rect x="477.50" y="36.25" width="9.60" height="1.5" fill="#333"/>
<text x="493.20" y="39.90" class="lg" textLength="16.60" lengthAdjust="spacingAndGlyphs">60</text>
<circle cx="513.00" cy="27.80" r="1.6" fill="none" stroke="#5a5a5a" stroke-width="1.0"/>
<line x1="432.40" y1="49.60" x2="450.70" y2="49.60" stroke="#4a1ec6" stroke-width="1.9"/>
<text x="462.30" y="56.10" class="lg th">&#952;</text>
<rect x="476.40" y="48.35" width="9.60" height="1.5" fill="#333"/>
<rect x="476.40" y="52.75" width="9.60" height="1.5" fill="#333"/>
<text x="492.00" y="56.10" class="lg" textLength="17.10" lengthAdjust="spacingAndGlyphs">45</text>
<circle cx="511.80" cy="44.50" r="1.6" fill="none" stroke="#5a5a5a" stroke-width="1.0"/>
<line x1="431.90" y1="66.80" x2="450.10" y2="66.80" stroke="#f03cc8" stroke-width="1.9"/>
<text x="460.90" y="71.60" class="lg th">&#952;</text>
<rect x="475.00" y="63.85" width="9.30" height="1.5" fill="#333"/>
<rect x="475.00" y="67.95" width="9.30" height="1.5" fill="#333"/>
<text x="490.60" y="71.60" class="lg" textLength="17.50" lengthAdjust="spacingAndGlyphs">30</text>
<circle cx="510.50" cy="60.00" r="1.6" fill="none" stroke="#5a5a5a" stroke-width="1.0"/>
<line x1="431.20" y1="82.40" x2="449.30" y2="82.40" stroke="#22def5" stroke-width="1.9"/>
<text x="459.80" y="87.00" class="lg th">&#952;</text>
<rect x="474.00" y="79.85" width="9.40" height="1.5" fill="#333"/>
<rect x="474.00" y="83.55" width="9.40" height="1.5" fill="#333"/>
<text x="489.50" y="87.00" class="lg" textLength="17.10" lengthAdjust="spacingAndGlyphs">20</text>
<circle cx="508.80" cy="75.60" r="1.6" fill="none" stroke="#5a5a5a" stroke-width="1.0"/>
<line x1="431.90" y1="99.90" x2="449.90" y2="99.90" stroke="#f5803c" stroke-width="1.9"/>
<text x="458.80" y="104.80" class="lg th">&#952;</text>
<rect x="472.80" y="97.95" width="9.60" height="1.5" fill="#333"/>
<rect x="472.80" y="101.85" width="9.60" height="1.5" fill="#333"/>
<text x="488.90" y="104.80" class="lg" textLength="16.80" lengthAdjust="spacingAndGlyphs">15</text>
<circle cx="508.00" cy="93.50" r="1.6" fill="none" stroke="#5a5a5a" stroke-width="1.0"/>
<line x1="431.90" y1="115.50" x2="449.90" y2="115.50" stroke="#fbf614" stroke-width="1.9"/>
<text x="456.80" y="123.30" class="lg th">&#952;</text>
<rect x="470.70" y="116.25" width="9.70" height="1.5" fill="#333"/>
<rect x="470.70" y="119.95" width="9.70" height="1.5" fill="#333"/>
<text x="486.50" y="123.30" class="lg" textLength="7.50" lengthAdjust="spacingAndGlyphs">0</text>
<circle cx="496.60" cy="111.50" r="1.6" fill="none" stroke="#5a5a5a" stroke-width="1.0"/>
</g>
</svg>
</body></html>
